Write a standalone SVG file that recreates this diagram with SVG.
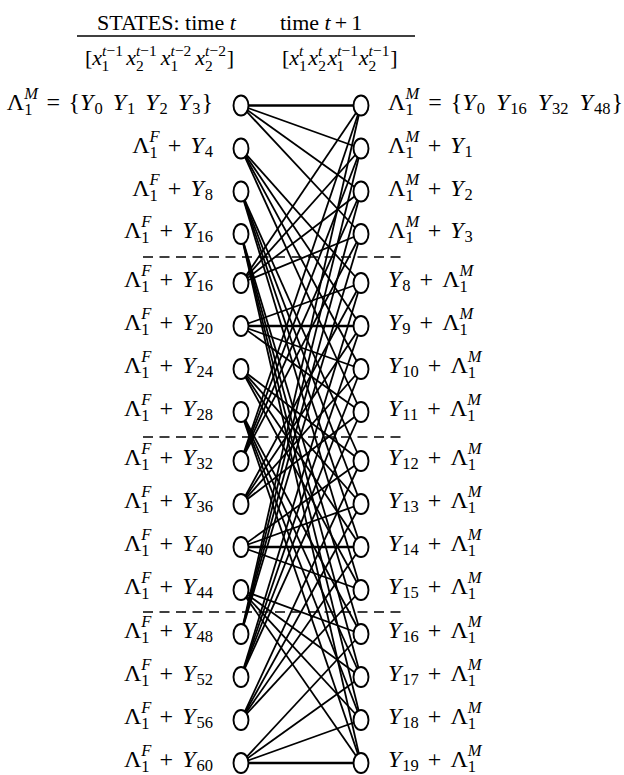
<svg xmlns="http://www.w3.org/2000/svg" width="624" height="775" viewBox="0 0 624 775">
<style>
.t{font-family:"Liberation Serif","DejaVu Serif",serif;font-size:24px;fill:#000}
.h{font-family:"Liberation Serif","DejaVu Serif",serif;font-size:22px;fill:#000}
.s{font-size:16.5px}
.hs{font-size:15.5px}
.i{font-style:italic}
.n{fill:#fff;stroke:#000;stroke-width:1.9}
.e line{stroke:#000;stroke-width:1.8}
.e line.hz{stroke-width:2.4}
.d{stroke:#000;stroke-width:1.6;stroke-dasharray:10 6.5}
</style>
<rect width="624" height="775" fill="#fff"/>
<g id="header">
<text class="h" x="97" y="30">STATES: time <tspan class="i">t</tspan></text>
<text class="h" x="280" y="30">time <tspan class="i">t</tspan><tspan dx="4">+</tspan><tspan dx="4">1</tspan></text>
<line x1="77" y1="36" x2="415" y2="36" stroke="#000" stroke-width="1.7"/>
<text class="h" x="85" y="65">[<tspan class="i">x</tspan><tspan class="hs" dy="-9"><tspan class="i">t</tspan>−1</tspan><tspan class="hs" dx="-20.8" dy="15">1</tspan><tspan class="i" dx="17" dy="-6">x</tspan><tspan class="hs" dy="-9"><tspan class="i">t</tspan>−1</tspan><tspan class="hs" dx="-20.8" dy="15">2</tspan><tspan class="i" dx="17" dy="-6">x</tspan><tspan class="hs" dy="-9"><tspan class="i">t</tspan>−2</tspan><tspan class="hs" dx="-20.8" dy="15">1</tspan><tspan class="i" dx="17" dy="-6">x</tspan><tspan class="hs" dy="-9"><tspan class="i">t</tspan>−2</tspan><tspan class="hs" dx="-20.8" dy="15">2</tspan><tspan dx="14" dy="-6">]</tspan></text>
<text class="h" x="282" y="65">[<tspan class="i">x</tspan><tspan class="hs i" dy="-9">t</tspan><tspan class="hs" dx="-4.3" dy="15">1</tspan><tspan class="i" dx="1.5" dy="-6">x</tspan><tspan class="hs i" dy="-9">t</tspan><tspan class="hs" dx="-4.3" dy="15">2</tspan><tspan class="i" dx="1.5" dy="-6">x</tspan><tspan class="hs" dy="-9"><tspan class="i">t</tspan>−1</tspan><tspan class="hs" dx="-20.8" dy="15">1</tspan><tspan class="i" dx="14.5" dy="-6">x</tspan><tspan class="hs" dy="-9"><tspan class="i">t</tspan>−1</tspan><tspan class="hs" dx="-20.8" dy="15">2</tspan><tspan dx="14" dy="-6">]</tspan></text>
</g>
<g id="separators">
<line class="d" x1="143" y1="257" x2="404" y2="257"/>
<line class="d" x1="143" y1="437" x2="404" y2="437"/>
<line class="d" x1="143" y1="612" x2="404" y2="612"/>
</g>
<g id="connectors" class="e">
<line class="hz" x1="241" y1="105.5" x2="361" y2="105.5"/><line x1="241" y1="105.5" x2="361" y2="148.5"/><line x1="241" y1="105.5" x2="361" y2="191.5"/><line x1="241" y1="105.5" x2="361" y2="234"/>
<line x1="241" y1="148.5" x2="361" y2="283"/><line x1="241" y1="148.5" x2="361" y2="326"/><line x1="241" y1="148.5" x2="361" y2="369"/><line x1="241" y1="148.5" x2="361" y2="412"/>
<line x1="241" y1="191.5" x2="361" y2="461"/><line x1="241" y1="191.5" x2="361" y2="504"/><line x1="241" y1="191.5" x2="361" y2="547"/><line x1="241" y1="191.5" x2="361" y2="590"/>
<line x1="241" y1="234" x2="361" y2="634"/><line x1="241" y1="234" x2="361" y2="677"/><line x1="241" y1="234" x2="361" y2="720"/><line x1="241" y1="234" x2="361" y2="763"/>
<line x1="241" y1="283" x2="361" y2="105.5"/><line x1="241" y1="283" x2="361" y2="148.5"/><line x1="241" y1="283" x2="361" y2="191.5"/><line x1="241" y1="283" x2="361" y2="234"/>
<line x1="241" y1="326" x2="361" y2="283"/><line class="hz" x1="241" y1="326" x2="361" y2="326"/><line x1="241" y1="326" x2="361" y2="369"/><line x1="241" y1="326" x2="361" y2="412"/>
<line x1="241" y1="369" x2="361" y2="461"/><line x1="241" y1="369" x2="361" y2="504"/><line x1="241" y1="369" x2="361" y2="547"/><line x1="241" y1="369" x2="361" y2="590"/>
<line x1="241" y1="412" x2="361" y2="634"/><line x1="241" y1="412" x2="361" y2="677"/><line x1="241" y1="412" x2="361" y2="720"/><line x1="241" y1="412" x2="361" y2="763"/>
<line x1="241" y1="461" x2="361" y2="105.5"/><line x1="241" y1="461" x2="361" y2="148.5"/><line x1="241" y1="461" x2="361" y2="191.5"/><line x1="241" y1="461" x2="361" y2="234"/>
<line x1="241" y1="504" x2="361" y2="283"/><line x1="241" y1="504" x2="361" y2="326"/><line x1="241" y1="504" x2="361" y2="369"/><line x1="241" y1="504" x2="361" y2="412"/>
<line x1="241" y1="547" x2="361" y2="461"/><line x1="241" y1="547" x2="361" y2="504"/><line class="hz" x1="241" y1="547" x2="361" y2="547"/><line x1="241" y1="547" x2="361" y2="590"/>
<line x1="241" y1="590" x2="361" y2="634"/><line x1="241" y1="590" x2="361" y2="677"/><line x1="241" y1="590" x2="361" y2="720"/><line x1="241" y1="590" x2="361" y2="763"/>
<line x1="241" y1="634" x2="361" y2="105.5"/><line x1="241" y1="634" x2="361" y2="148.5"/><line x1="241" y1="634" x2="361" y2="191.5"/><line x1="241" y1="634" x2="361" y2="234"/>
<line x1="241" y1="677" x2="361" y2="283"/><line x1="241" y1="677" x2="361" y2="326"/><line x1="241" y1="677" x2="361" y2="369"/><line x1="241" y1="677" x2="361" y2="412"/>
<line x1="241" y1="720" x2="361" y2="461"/><line x1="241" y1="720" x2="361" y2="504"/><line x1="241" y1="720" x2="361" y2="547"/><line x1="241" y1="720" x2="361" y2="590"/>
<line x1="241" y1="763" x2="361" y2="634"/><line x1="241" y1="763" x2="361" y2="677"/><line x1="241" y1="763" x2="361" y2="720"/><line class="hz" x1="241" y1="763" x2="361" y2="763"/>
</g>
<g id="L0"><ellipse class="n" cx="241" cy="105.5" rx="7.5" ry="10"/><text class="t" x="213" y="109.5" text-anchor="end">Λ<tspan class="s i" dy="-11">M</tspan><tspan class="s" dx="-13.7" dy="16">1</tspan><tspan dx="14" dy="-5">=</tspan><tspan dx="8.5">{</tspan><tspan class="i">Y</tspan><tspan class="s" dx="1" dy="4">0</tspan><tspan class="i" dx="10" dy="-4">Y</tspan><tspan class="s" dx="1" dy="4">1</tspan><tspan class="i" dx="10" dy="-4">Y</tspan><tspan class="s" dx="1" dy="4">2</tspan><tspan class="i" dx="10" dy="-4">Y</tspan><tspan class="s" dx="1" dy="4">3</tspan><tspan dx="1" dy="-4">}</tspan></text></g>
<g id="L1"><ellipse class="n" cx="241" cy="148.5" rx="7.5" ry="10"/><text class="t" x="213" y="152.5" text-anchor="end">Λ<tspan class="s i" dy="-11">F</tspan><tspan class="s" dx="-10.1" dy="16">1</tspan><tspan dx="10" dy="-5">+</tspan><tspan class="i" dx="9">Y</tspan><tspan class="s" dx="1" dy="4">4</tspan></text></g>
<g id="L2"><ellipse class="n" cx="241" cy="191.5" rx="7.5" ry="10"/><text class="t" x="213" y="195.5" text-anchor="end">Λ<tspan class="s i" dy="-11">F</tspan><tspan class="s" dx="-10.1" dy="16">1</tspan><tspan dx="10" dy="-5">+</tspan><tspan class="i" dx="9">Y</tspan><tspan class="s" dx="1" dy="4">8</tspan></text></g>
<g id="L3"><ellipse class="n" cx="241" cy="234" rx="7.5" ry="10"/><text class="t" x="213" y="238" text-anchor="end">Λ<tspan class="s i" dy="-11">F</tspan><tspan class="s" dx="-10.1" dy="16">1</tspan><tspan dx="10" dy="-5">+</tspan><tspan class="i" dx="9">Y</tspan><tspan class="s" dx="1" dy="4">16</tspan></text></g>
<g id="L4"><ellipse class="n" cx="241" cy="283" rx="7.5" ry="10"/><text class="t" x="213" y="287" text-anchor="end">Λ<tspan class="s i" dy="-11">F</tspan><tspan class="s" dx="-10.1" dy="16">1</tspan><tspan dx="10" dy="-5">+</tspan><tspan class="i" dx="9">Y</tspan><tspan class="s" dx="1" dy="4">16</tspan></text></g>
<g id="L5"><ellipse class="n" cx="241" cy="326" rx="7.5" ry="10"/><text class="t" x="213" y="330" text-anchor="end">Λ<tspan class="s i" dy="-11">F</tspan><tspan class="s" dx="-10.1" dy="16">1</tspan><tspan dx="10" dy="-5">+</tspan><tspan class="i" dx="9">Y</tspan><tspan class="s" dx="1" dy="4">20</tspan></text></g>
<g id="L6"><ellipse class="n" cx="241" cy="369" rx="7.5" ry="10"/><text class="t" x="213" y="373" text-anchor="end">Λ<tspan class="s i" dy="-11">F</tspan><tspan class="s" dx="-10.1" dy="16">1</tspan><tspan dx="10" dy="-5">+</tspan><tspan class="i" dx="9">Y</tspan><tspan class="s" dx="1" dy="4">24</tspan></text></g>
<g id="L7"><ellipse class="n" cx="241" cy="412" rx="7.5" ry="10"/><text class="t" x="213" y="416" text-anchor="end">Λ<tspan class="s i" dy="-11">F</tspan><tspan class="s" dx="-10.1" dy="16">1</tspan><tspan dx="10" dy="-5">+</tspan><tspan class="i" dx="9">Y</tspan><tspan class="s" dx="1" dy="4">28</tspan></text></g>
<g id="L8"><ellipse class="n" cx="241" cy="461" rx="7.5" ry="10"/><text class="t" x="213" y="465" text-anchor="end">Λ<tspan class="s i" dy="-11">F</tspan><tspan class="s" dx="-10.1" dy="16">1</tspan><tspan dx="10" dy="-5">+</tspan><tspan class="i" dx="9">Y</tspan><tspan class="s" dx="1" dy="4">32</tspan></text></g>
<g id="L9"><ellipse class="n" cx="241" cy="504" rx="7.5" ry="10"/><text class="t" x="213" y="508" text-anchor="end">Λ<tspan class="s i" dy="-11">F</tspan><tspan class="s" dx="-10.1" dy="16">1</tspan><tspan dx="10" dy="-5">+</tspan><tspan class="i" dx="9">Y</tspan><tspan class="s" dx="1" dy="4">36</tspan></text></g>
<g id="L10"><ellipse class="n" cx="241" cy="547" rx="7.5" ry="10"/><text class="t" x="213" y="551" text-anchor="end">Λ<tspan class="s i" dy="-11">F</tspan><tspan class="s" dx="-10.1" dy="16">1</tspan><tspan dx="10" dy="-5">+</tspan><tspan class="i" dx="9">Y</tspan><tspan class="s" dx="1" dy="4">40</tspan></text></g>
<g id="L11"><ellipse class="n" cx="241" cy="590" rx="7.5" ry="10"/><text class="t" x="213" y="594" text-anchor="end">Λ<tspan class="s i" dy="-11">F</tspan><tspan class="s" dx="-10.1" dy="16">1</tspan><tspan dx="10" dy="-5">+</tspan><tspan class="i" dx="9">Y</tspan><tspan class="s" dx="1" dy="4">44</tspan></text></g>
<g id="L12"><ellipse class="n" cx="241" cy="634" rx="7.5" ry="10"/><text class="t" x="213" y="638" text-anchor="end">Λ<tspan class="s i" dy="-11">F</tspan><tspan class="s" dx="-10.1" dy="16">1</tspan><tspan dx="10" dy="-5">+</tspan><tspan class="i" dx="9">Y</tspan><tspan class="s" dx="1" dy="4">48</tspan></text></g>
<g id="L13"><ellipse class="n" cx="241" cy="677" rx="7.5" ry="10"/><text class="t" x="213" y="681" text-anchor="end">Λ<tspan class="s i" dy="-11">F</tspan><tspan class="s" dx="-10.1" dy="16">1</tspan><tspan dx="10" dy="-5">+</tspan><tspan class="i" dx="9">Y</tspan><tspan class="s" dx="1" dy="4">52</tspan></text></g>
<g id="L14"><ellipse class="n" cx="241" cy="720" rx="7.5" ry="10"/><text class="t" x="213" y="724" text-anchor="end">Λ<tspan class="s i" dy="-11">F</tspan><tspan class="s" dx="-10.1" dy="16">1</tspan><tspan dx="10" dy="-5">+</tspan><tspan class="i" dx="9">Y</tspan><tspan class="s" dx="1" dy="4">56</tspan></text></g>
<g id="L15"><ellipse class="n" cx="241" cy="763" rx="7.5" ry="10"/><text class="t" x="213" y="767" text-anchor="end">Λ<tspan class="s i" dy="-11">F</tspan><tspan class="s" dx="-10.1" dy="16">1</tspan><tspan dx="10" dy="-5">+</tspan><tspan class="i" dx="9">Y</tspan><tspan class="s" dx="1" dy="4">60</tspan></text></g>
<g id="R0"><ellipse class="n" cx="361" cy="105.5" rx="7.5" ry="10"/><text class="t" x="388" y="109.5">Λ<tspan class="s i" dy="-11">M</tspan><tspan class="s" dx="-13.7" dy="16">1</tspan><tspan dx="14.5" dy="-5">=</tspan><tspan dx="9">{</tspan><tspan class="i">Y</tspan><tspan class="s" dx="1" dy="4">0</tspan><tspan class="i" dx="11" dy="-4">Y</tspan><tspan class="s" dx="1" dy="4">16</tspan><tspan class="i" dx="11" dy="-4">Y</tspan><tspan class="s" dx="1" dy="4">32</tspan><tspan class="i" dx="11" dy="-4">Y</tspan><tspan class="s" dx="1" dy="4">48</tspan><tspan dx="1" dy="-4">}</tspan></text></g>
<g id="R1"><ellipse class="n" cx="361" cy="148.5" rx="7.5" ry="10"/><text class="t" x="388" y="152.5">Λ<tspan class="s i" dy="-11">M</tspan><tspan class="s" dx="-13.7" dy="16">1</tspan><tspan dx="14" dy="-5">+</tspan><tspan class="i" dx="9">Y</tspan><tspan class="s" dx="1" dy="4">1</tspan></text></g>
<g id="R2"><ellipse class="n" cx="361" cy="191.5" rx="7.5" ry="10"/><text class="t" x="388" y="195.5">Λ<tspan class="s i" dy="-11">M</tspan><tspan class="s" dx="-13.7" dy="16">1</tspan><tspan dx="14" dy="-5">+</tspan><tspan class="i" dx="9">Y</tspan><tspan class="s" dx="1" dy="4">2</tspan></text></g>
<g id="R3"><ellipse class="n" cx="361" cy="234" rx="7.5" ry="10"/><text class="t" x="388" y="238">Λ<tspan class="s i" dy="-11">M</tspan><tspan class="s" dx="-13.7" dy="16">1</tspan><tspan dx="14" dy="-5">+</tspan><tspan class="i" dx="9">Y</tspan><tspan class="s" dx="1" dy="4">3</tspan></text></g>
<g id="R4"><ellipse class="n" cx="361" cy="283" rx="7.5" ry="10"/><text class="t" x="388" y="287"><tspan class="i">Y</tspan><tspan class="s" dx="1" dy="4">8</tspan><tspan dx="9" dy="-4">+</tspan><tspan dx="9">Λ</tspan><tspan class="s i" dy="-11">M</tspan><tspan class="s" dx="-13.7" dy="16">1</tspan></text></g>
<g id="R5"><ellipse class="n" cx="361" cy="326" rx="7.5" ry="10"/><text class="t" x="388" y="330"><tspan class="i">Y</tspan><tspan class="s" dx="1" dy="4">9</tspan><tspan dx="9" dy="-4">+</tspan><tspan dx="9">Λ</tspan><tspan class="s i" dy="-11">M</tspan><tspan class="s" dx="-13.7" dy="16">1</tspan></text></g>
<g id="R6"><ellipse class="n" cx="361" cy="369" rx="7.5" ry="10"/><text class="t" x="388" y="373"><tspan class="i">Y</tspan><tspan class="s" dx="1" dy="4">10</tspan><tspan dx="9" dy="-4">+</tspan><tspan dx="9">Λ</tspan><tspan class="s i" dy="-11">M</tspan><tspan class="s" dx="-13.7" dy="16">1</tspan></text></g>
<g id="R7"><ellipse class="n" cx="361" cy="412" rx="7.5" ry="10"/><text class="t" x="388" y="416"><tspan class="i">Y</tspan><tspan class="s" dx="1" dy="4">11</tspan><tspan dx="9" dy="-4">+</tspan><tspan dx="9">Λ</tspan><tspan class="s i" dy="-11">M</tspan><tspan class="s" dx="-13.7" dy="16">1</tspan></text></g>
<g id="R8"><ellipse class="n" cx="361" cy="461" rx="7.5" ry="10"/><text class="t" x="388" y="465"><tspan class="i">Y</tspan><tspan class="s" dx="1" dy="4">12</tspan><tspan dx="9" dy="-4">+</tspan><tspan dx="9">Λ</tspan><tspan class="s i" dy="-11">M</tspan><tspan class="s" dx="-13.7" dy="16">1</tspan></text></g>
<g id="R9"><ellipse class="n" cx="361" cy="504" rx="7.5" ry="10"/><text class="t" x="388" y="508"><tspan class="i">Y</tspan><tspan class="s" dx="1" dy="4">13</tspan><tspan dx="9" dy="-4">+</tspan><tspan dx="9">Λ</tspan><tspan class="s i" dy="-11">M</tspan><tspan class="s" dx="-13.7" dy="16">1</tspan></text></g>
<g id="R10"><ellipse class="n" cx="361" cy="547" rx="7.5" ry="10"/><text class="t" x="388" y="551"><tspan class="i">Y</tspan><tspan class="s" dx="1" dy="4">14</tspan><tspan dx="9" dy="-4">+</tspan><tspan dx="9">Λ</tspan><tspan class="s i" dy="-11">M</tspan><tspan class="s" dx="-13.7" dy="16">1</tspan></text></g>
<g id="R11"><ellipse class="n" cx="361" cy="590" rx="7.5" ry="10"/><text class="t" x="388" y="594"><tspan class="i">Y</tspan><tspan class="s" dx="1" dy="4">15</tspan><tspan dx="9" dy="-4">+</tspan><tspan dx="9">Λ</tspan><tspan class="s i" dy="-11">M</tspan><tspan class="s" dx="-13.7" dy="16">1</tspan></text></g>
<g id="R12"><ellipse class="n" cx="361" cy="634" rx="7.5" ry="10"/><text class="t" x="388" y="638"><tspan class="i">Y</tspan><tspan class="s" dx="1" dy="4">16</tspan><tspan dx="9" dy="-4">+</tspan><tspan dx="9">Λ</tspan><tspan class="s i" dy="-11">M</tspan><tspan class="s" dx="-13.7" dy="16">1</tspan></text></g>
<g id="R13"><ellipse class="n" cx="361" cy="677" rx="7.5" ry="10"/><text class="t" x="388" y="681"><tspan class="i">Y</tspan><tspan class="s" dx="1" dy="4">17</tspan><tspan dx="9" dy="-4">+</tspan><tspan dx="9">Λ</tspan><tspan class="s i" dy="-11">M</tspan><tspan class="s" dx="-13.7" dy="16">1</tspan></text></g>
<g id="R14"><ellipse class="n" cx="361" cy="720" rx="7.5" ry="10"/><text class="t" x="388" y="724"><tspan class="i">Y</tspan><tspan class="s" dx="1" dy="4">18</tspan><tspan dx="9" dy="-4">+</tspan><tspan dx="9">Λ</tspan><tspan class="s i" dy="-11">M</tspan><tspan class="s" dx="-13.7" dy="16">1</tspan></text></g>
<g id="R15"><ellipse class="n" cx="361" cy="763" rx="7.5" ry="10"/><text class="t" x="388" y="767"><tspan class="i">Y</tspan><tspan class="s" dx="1" dy="4">19</tspan><tspan dx="9" dy="-4">+</tspan><tspan dx="9">Λ</tspan><tspan class="s i" dy="-11">M</tspan><tspan class="s" dx="-13.7" dy="16">1</tspan></text></g>
</svg>
